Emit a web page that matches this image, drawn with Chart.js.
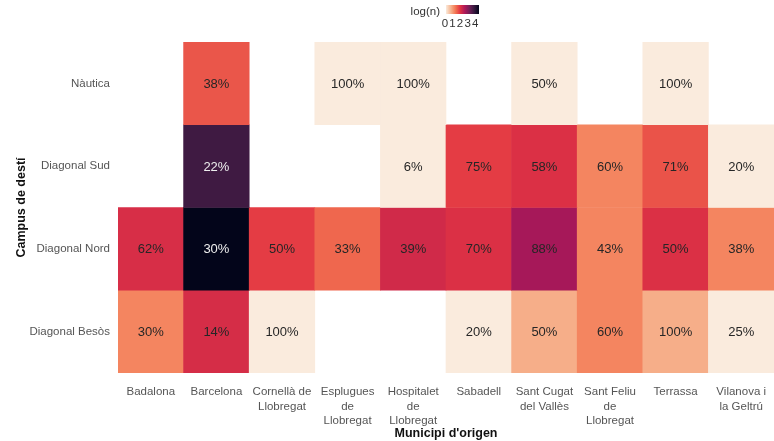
<!DOCTYPE html>
<html lang="ca">
<head>
<meta charset="UTF-8">
<title>Campus de destí per municipi d'origen</title>
<script src="https://cdn.jsdelivr.net/npm/chart.js"></script>
<style>
    html, body { margin: 0; padding: 0; background: #fff; }
    #wrap { width: 774px; height: 441px; position: relative; }
</style>
</head>
<body>
<div id="wrap"><canvas id="heat" width="774" height="441"></canvas></div>
<script>
// municipis (eix x) i campus (eix y, de dalt a baix)
const municipis = [
    ['Badalona'], ['Barcelona'], ['Cornellà de', 'Llobregat'], ['Esplugues', 'de', 'Llobregat'],
    ['Hospitalet', 'de', 'Llobregat'], ['Sabadell'], ['Sant Cugat', 'del Vallès'],
    ['Sant Feliu', 'de', 'Llobregat'], ['Terrassa'], ['Vilanova i', 'la Geltrú']
];
const campus = ['Nàutica', 'Diagonal Sud', 'Diagonal Nord', 'Diagonal Besòs'];

// log(n) per fila (null = sense dades)
const logNautica = [null, 1.55, null, 0, 0, null, 0, null, 0, null];
const logSud     = [null, 3.65, null, null, 0, 1.79, 1.95, 1.1, 1.58, 0];
const logNord    = [2.0, 4.38, 1.79, 1.39, 2.08, 1.95, 2.57, 1.1, 1.95, 1.1];
const logBesos   = [1.1, 2.02, 0, null, null, 0, 0.69, 1.1, 0.69, 0];

// percentatges escrits a cada cel·la
const pctNautica = [null, 38, null, 100, 100, null, 50, null, 100, null];
const pctSud     = [null, 22, null, null, 6, 75, 58, 60, 71, 20];
const pctNord    = [62, 30, 50, 33, 39, 70, 88, 43, 50, 38];
const pctBesos   = [30, 14, 100, null, null, 20, 50, 60, 100, 25];

const colorbarTicks = [0, 1, 2, 3, 4];
const vmax = 4.38;

// rocket_r
const rocketStops = ['#faebdd', '#f6b48f', '#f37651', '#e13342', '#ad1759', '#701f57', '#35193e', '#03051a'];
function hexToRgb(h) {
    return [parseInt(h.slice(1, 3), 16), parseInt(h.slice(3, 5), 16), parseInt(h.slice(5, 7), 16)];
}
function rocket(t) {
    t = Math.max(0, Math.min(1, t));
    const pos = t * (rocketStops.length - 1);
    const i = Math.min(Math.floor(pos), rocketStops.length - 2);
    const f = pos - i;
    const a = hexToRgb(rocketStops[i]), b = hexToRgb(rocketStops[i + 1]);
    const c = a.map((v, k) => Math.round(v + (b[k] - v) * f));
    return `rgb(${c[0]},${c[1]},${c[2]})`;
}

const logRows = [logNautica, logSud, logNord, logBesos];
const pctRows = [pctNautica, pctSud, pctNord, pctBesos];

const datasets = logRows.map((row, r) => ({
    label: campus[r],
    data: row.map(v => v === null ? null : [3 - r, 4 - r]),
    backgroundColor: row.map(v => v === null ? 'rgba(0,0,0,0)' : rocket(v / vmax)),
    borderWidth: 0,
    barPercentage: 1,
    categoryPercentage: 1,
    grouped: false
}));

const cellLabels = {
    id: 'cellLabels',
    afterDatasetsDraw(chart) {
        const ctx = chart.ctx;
        ctx.save();
        ctx.font = '13px "Liberation Sans", Arial, sans-serif';
        ctx.textAlign = 'center';
        ctx.textBaseline = 'middle';
        chart.data.datasets.forEach((ds, r) => {
            const meta = chart.getDatasetMeta(r);
            meta.data.forEach((el, i) => {
                const p = pctRows[r][i];
                if (p === null || logRows[r][i] === null) return;
                ctx.fillStyle = logRows[r][i] > 3 ? '#eeeeee' : '#262626';
                ctx.fillText(p + '%', el.x, (el.y + el.base) / 2 + 1);
            });
        });
        ctx.restore();
    }
};

const colorbar = {
    id: 'colorbar',
    afterDraw(chart) {
        const ctx = chart.ctx;
        const x0 = 446, x1 = 479, y0 = 5, h = 9;
        ctx.save();
        const g = ctx.createLinearGradient(x0, 0, x1, 0);
        for (let k = 0; k <= 20; k++) g.addColorStop(k / 20, rocket(k / 20));
        ctx.fillStyle = g;
        ctx.fillRect(x0, y0, x1 - x0, h);
        ctx.fillStyle = '#333';
        ctx.font = '11.5px "Liberation Sans", Arial, sans-serif';
        ctx.textAlign = 'right';
        ctx.textBaseline = 'middle';
        ctx.fillText('log(n)', 440, 12);
        ctx.textAlign = 'center';
        colorbarTicks.forEach(t => {
            ctx.fillText(String(t), x0 - 1 + (t / vmax) * (x1 - x0), 24);
        });
        ctx.restore();
    }
};

const tickFont = { family: '"Liberation Sans", Arial, sans-serif', size: 11.5, lineHeight: 1.25 };
const titleFont = { family: '"Liberation Sans", Arial, sans-serif', size: 12.5, weight: 'bold' };

new Chart(document.getElementById('heat'), {
    type: 'bar',
    data: { labels: municipis, datasets },
    plugins: [cellLabels, colorbar],
    options: {
        responsive: false,
        animation: false,
        layout: { padding: { top: 42, right: 0, left: 0, bottom: 0 } },
        plugins: { legend: { display: false }, tooltip: { enabled: false } },
        scales: {
            x: {
                type: 'category',
                grid: { display: false, drawTicks: false },
                border: { display: false },
                ticks: {
                    color: '#555',
                    font: tickFont,
                    padding: 12,
                    maxRotation: 0,
                    autoSkip: false
                },
                title: {
                    display: true,
                    text: "Municipi d'origen",
                    color: '#111',
                    font: titleFont,
                    padding: { top: 1, bottom: 0 }
                },
                afterFit(scale) {
                    scale.height = 68;
                    scale.paddingLeft = 0;
                    scale.paddingRight = 0;
                }
            },
            y: {
                type: 'linear',
                min: 0,
                max: 4,
                grid: { display: false, drawTicks: false },
                border: { display: false },
                afterBuildTicks(scale) {
                    scale.ticks = campus.map((c, r) => ({ value: 3.5 - r }));
                },
                ticks: {
                    color: '#555',
                    font: tickFont,
                    padding: 8,
                    callback(value) { return campus[Math.round(3.5 - value)]; }
                },
                title: {
                    display: true,
                    text: 'Campus de destí',
                    color: '#111',
                    font: titleFont,
                    padding: { top: 14, bottom: 0 }
                },
                afterFit(scale) {
                    scale.width = 118;
                    scale.paddingTop = 0;
                    scale.paddingBottom = 0;
                }
            }
        }
    }
});
</script>
</body>
</html>
